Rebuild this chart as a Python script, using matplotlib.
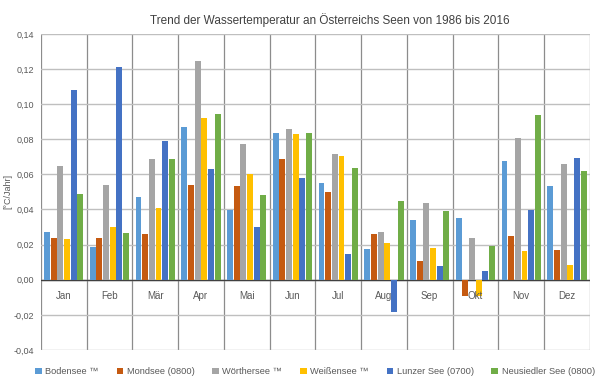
import matplotlib
matplotlib.use("Agg")
import matplotlib.pyplot as plt
import numpy as np
from matplotlib.ticker import FuncFormatter

months = ["Jan", "Feb", "Mär", "Apr", "Mai", "Jun", "Jul", "Aug", "Sep", "Okt", "Nov", "Dez"]
lakes = ["Bodensee ™", "Mondsee (0800)", "Wörthersee ™", "Weißensee ™",
         "Lunzer See (0700)", "Neusiedler See (0800)"]

bodensee = [0.0274, 0.0185, 0.0470, 0.0870, 0.0398, 0.0838, 0.0552, 0.0173, 0.0339, 0.0354, 0.0676, 0.0531]
mondsee = [0.0236, 0.0240, 0.0261, 0.0539, 0.0531, 0.0686, 0.0499, 0.0263, 0.0105, -0.0094, 0.0248, 0.0168]
woerthersee = [0.0648, 0.0539, 0.0688, 0.1246, 0.0773, 0.0859, 0.0716, 0.0274, 0.0434, 0.0236, 0.0806, 0.0657]
weissensee = [0.0229, 0.0299, 0.0408, 0.0918, 0.0604, 0.0829, 0.0705, 0.0208, 0.0179, -0.0090, 0.0166, 0.0082]
lunzer = [0.1078, 0.1211, 0.0790, 0.0632, 0.0299, 0.0579, 0.0145, -0.0181, 0.0076, 0.0048, 0.0398, 0.0693]
neusiedler = [0.0490, 0.0267, 0.0686, 0.0945, 0.0480, 0.0836, 0.0636, 0.0448, 0.0390, 0.0194, 0.0935, 0.0619]

series = [bodensee, mondsee, woerthersee, weissensee, lunzer, neusiedler]
colors = ["#5B9BD5", "#C55A11", "#A5A5A5", "#FFC000", "#4472C4", "#70AD47"]

plt.rcParams["font.family"] = ["Liberation Sans", "DejaVu Sans"]

fig = plt.figure(figsize=(6, 3.8), dpi=100)
ax = fig.add_axes([0.068, 0.079, 0.915, 0.832])

x = np.arange(len(months))
pitch = 0.146
width = 0.13
for i, (vals, col, name) in enumerate(zip(series, colors, lakes)):
    offs = (i - 2.5) * pitch
    ax.bar(x + offs, vals, width, color=col, label=name, zorder=3)

ax.set_xlim(-0.5, len(months) - 0.5)
ax.set_ylim(-0.04, 0.14)
ax.set_yticks(np.arange(-0.04, 0.1401, 0.02))
ax.yaxis.set_major_formatter(FuncFormatter(lambda v, p: f"{v:.2f}".replace(".", ",")))
ax.tick_params(axis="y", length=0, labelsize=6.5, labelcolor="#595959", pad=5)
ax.set_xticks([])
for s in ax.spines.values():
    s.set_visible(False)

ax.grid(axis="y", color="#BFBFBF", linewidth=1, zorder=0)
for b in np.arange(-0.5, len(months), 1.0):
    ax.axvline(b, color="#8C8C8C", linewidth=0.9, zorder=1)
ax.axhline(0, color="#404040", linewidth=1, zorder=2)

for xi, m in zip(x, months):
    ax.text(xi, -0.009, m, ha="center", va="center", fontsize=7, color="#595959", zorder=4)

ax.set_ylabel("[°C/Jahr]", fontsize=6.5, color="#595959")
ax.yaxis.set_label_coords(-0.052, 0.5)
fig.suptitle("Trend der Wassertemperatur an Österreichs Seen von 1986 bis 2016",
             fontsize=8.5, color="#404040", y=0.965, x=0.55)

fig.legend(loc="lower center", ncol=6, frameon=False, fontsize=6.7,
           bbox_to_anchor=(0.525, -0.012), handlelength=0.7, handleheight=0.7,
           handletextpad=0.4, columnspacing=1.9, labelcolor="#595959")

fig.savefig("out.png", dpi=100)
